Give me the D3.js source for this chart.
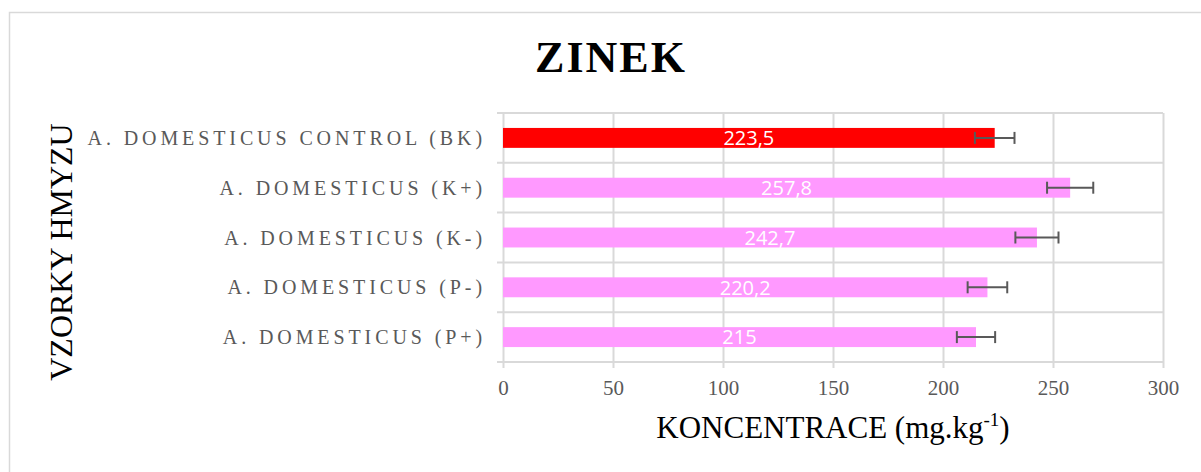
<!DOCTYPE html>
<html>
<head>
<meta charset="utf-8">
<script src="https://cdn.jsdelivr.net/npm/d3@7"></script>
<style>
  body { margin: 0; background: #fff; }
  svg { display: block; }
</style>
</head>
<body>
<svg id="chart" width="1201" height="472"></svg>
<script>
// data
const categories = [
  "A. DOMESTICUS CONTROL (BK)",
  "A. DOMESTICUS (K+)",
  "A. DOMESTICUS (K-)",
  "A. DOMESTICUS (P-)",
  "A. DOMESTICUS (P+)",
];
const values = [223.5, 257.8, 242.7, 220.2, 215];
const errors = [9, 10.5, 9.8, 9, 8.7];
const valueLabels = ["223,5", "257,8", "242,7", "220,2", "215"];
const xTicks = [0, 50, 100, 150, 200, 250, 300];
const controlCategory = "A. DOMESTICUS CONTROL (BK)";

const width = 1201;
const height = 472;
const marginLeft = 503;
const marginRight = 38;
const marginTop = 113;
const plotBottom = 362;

const grid = "#d9d9d9";
const grey = "#595959";

const svg = d3.select("#chart");

// chart area border
svg.append("rect")
  .attr("x", 9.5).attr("y", 12.5)
  .attr("width", 1200).attr("height", 470)
  .attr("fill", "#fff")
  .attr("stroke", grid)
  .attr("stroke-width", 1.5);

const xScale = d3.scaleLinear()
  .domain([0, 300])
  .range([marginLeft, width - marginRight]);

const rows = d3.scaleBand()
  .domain(categories)
  .range([marginTop, plotBottom]);

const yScale = d3.scaleBand()
  .domain(categories)
  .range([marginTop, plotBottom])
  .paddingInner(0.6)
  .paddingOuter(0.3);

// vertical grid + x ticks
const xAxis = d3.axisBottom(xScale)
  .tickValues(xTicks)
  .tickSize(-(plotBottom - marginTop))
  .tickFormat(d3.format("d"));
const gx = svg.append("g")
  .attr("class", "x-axis")
  .attr("transform", `translate(0, ${plotBottom})`)
  .call(xAxis);
gx.select(".domain").remove();
gx.selectAll("line").attr("stroke", grid).attr("stroke-width", 2).attr("y2", -(plotBottom - marginTop)).attr("y1", 6);
gx.selectAll("text")
  .attr("fill", grey)
  .attr("font-family", "'Liberation Serif', 'Times New Roman', serif")
  .attr("font-size", "21px")
  .attr("y", 33)
  .attr("dy", 0);

// horizontal row lines (category boundaries)
const bounds = categories.map((c) => rows(c)).concat([plotBottom]);
svg.append("g")
  .attr("class", "row-lines")
  .selectAll("line")
  .data(bounds)
  .enter()
  .append("line")
  .attr("x1", marginLeft - 6)
  .attr("x2", xScale(300))
  .attr("y1", (d) => d)
  .attr("y2", (d) => d)
  .attr("stroke", grid)
  .attr("stroke-width", 2);

// category labels
svg.append("g")
  .attr("class", "y-labels")
  .selectAll("text")
  .data(categories)
  .enter()
  .append("text")
  .attr("x", 486)
  .attr("y", (d) => rows(d) + rows.bandwidth() / 2)
  .attr("dy", "0.35em")
  .attr("text-anchor", "end")
  .attr("fill", grey)
  .attr("font-family", "'Liberation Serif', 'Times New Roman', serif")
  .attr("font-size", "20px")
  .attr("letter-spacing", "3.9px")
  .text((d) => d);

// bars
svg.append("g")
  .attr("class", "bars")
  .selectAll("rect")
  .data(categories)
  .enter()
  .append("rect")
  .attr("x", xScale(0))
  .attr("y", (d) => yScale(d))
  .attr("width", (d, i) => xScale(values[i]) - xScale(0))
  .attr("height", yScale.bandwidth())
  .attr("fill", (d) => (d === controlCategory ? "#ff0000" : "#ff99ff"));

// value labels
svg.append("g")
  .attr("class", "values")
  .selectAll("text")
  .data(categories)
  .enter()
  .append("text")
  .attr("x", (d, i) => (xScale(0) + xScale(values[i])) / 2)
  .attr("y", (d) => yScale(d) + yScale.bandwidth() / 2)
  .attr("dy", "0.36em")
  .attr("text-anchor", "middle")
  .attr("fill", "#fff")
  .attr("font-family", "'Open Sans', 'Liberation Sans', Arial, sans-serif")
  .attr("font-size", "20px")
  .text((d, i) => valueLabels[i]);

// error bars
const errG = svg.append("g").attr("class", "errors")
  .attr("stroke", grey).attr("stroke-width", 2);
categories.forEach((c, i) => {
  const cy = yScale(c) + yScale.bandwidth() / 2;
  const x1 = xScale(values[i] - errors[i]);
  const x2 = xScale(values[i] + errors[i]);
  errG.append("line").attr("x1", x1).attr("x2", x2).attr("y1", cy).attr("y2", cy);
  errG.append("line").attr("x1", x1).attr("x2", x1).attr("y1", cy - 6).attr("y2", cy + 6);
  errG.append("line").attr("x1", x2).attr("x2", x2).attr("y1", cy - 6).attr("y2", cy + 6);
});

// title
svg.append("text")
  .attr("x", 611)
  .attr("y", 72)
  .attr("text-anchor", "middle")
  .attr("font-family", "'Liberation Serif', 'Times New Roman', serif")
  .attr("font-weight", "bold")
  .attr("font-size", "44px")
  .attr("letter-spacing", "2px")
  .text("ZINEK");

// x axis title
const xt = svg.append("text")
  .attr("x", xScale(150))
  .attr("y", 438)
  .attr("text-anchor", "middle")
  .attr("font-family", "'Liberation Serif', 'Times New Roman', serif")
  .attr("font-size", "31px")
  .attr("fill", "#000");
xt.append("tspan").text("KONCENTRACE (mg.kg");
xt.append("tspan").attr("font-size", "19px").attr("dy", "-12").text("-1");
xt.append("tspan").attr("dy", "12").text(")");

// y axis title
svg.append("text")
  .attr("transform", "translate(72, 252) rotate(-90)")
  .attr("text-anchor", "middle")
  .attr("font-family", "'Liberation Serif', 'Times New Roman', serif")
  .attr("font-size", "32px")
  .attr("fill", "#000")
  .text("VZORKY HMYZU");
</script>
</body>
</html>
